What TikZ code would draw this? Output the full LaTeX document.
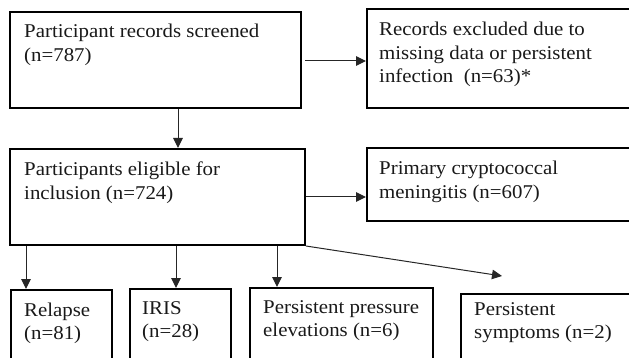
\documentclass[tikz,border=0pt]{standalone}
\usepackage{fontspec}
\usepackage{graphicx}
\setmainfont{Liberation Serif}
\usetikzlibrary{arrows.meta}
% widened block of left-aligned lines, baseline on the first line
\newcommand{\boxlines}[1]{\scalebox{1.07}[1]{\begin{tabular}[t]{@{}l@{}}#1\end{tabular}}}
\begin{document}
\begin{tikzpicture}[x=1pt,y=-1pt,
  box/.style={draw=black, line width=2pt, anchor=north west, inner sep=0pt},
  txt/.style={anchor=base west, inner sep=0pt,
    font=\fontsize{19.5}{23.5}\selectfont, text=black!90},
  link/.style={line width=1pt, draw=black!85, -{Triangle[length=10pt,width=9.5pt]}}]
\useasboundingbox (0,0) rectangle (629,358);
\clip (0,0) rectangle (629,358);

% boxes
\node[box, minimum width=291pt, minimum height=96pt] (b1) at (9,11) {};
\node[box, minimum width=280pt, minimum height=99pt] (b2) at (366,8) {};
\node[box, minimum width=295pt, minimum height=96pt] (b3) at (9,148) {};
\node[box, minimum width=280pt, minimum height=73pt] (b4) at (366,147) {};
\node[box, minimum width=101pt, minimum height=80pt] (b5) at (10,289) {};
\node[box, minimum width=101pt, minimum height=80pt] (b6) at (129,288) {};
\node[box, minimum width=183pt, minimum height=80pt] (b7) at (249,287) {};
\node[box, minimum width=190pt, minimum height=80pt] (b8) at (460,293) {};

% box texts
\node[txt] (t1) at (24,38)  {\boxlines{Participant records screened\\(n=787)}};
\node[txt] (t2) at (379,36) {\boxlines{Records excluded due to\\missing data or persistent\\infection~ (n=63)*}};
\node[txt] (t3) at (24,176) {\boxlines{Participants eligible for\\inclusion (n=724)}};
\node[txt] (t4) at (379,175) {\boxlines{Primary cryptococcal\\meningitis (n=607)}};
\node[txt] (t5) at (24,316) {\boxlines{Relapse\\(n=81)}};
\node[txt] (t6) at (142,314) {\boxlines{IRIS\\(n=28)}};
\node[txt] (t7) at (263,313) {\boxlines{Persistent pressure\\elevations (n=6)}};
\node[txt] (t8) at (474,315) {\boxlines{Persistent\\symptoms (n=2)}};

% connectors
\draw[link, shorten <=3pt] ([yshift=-1pt]b1.east) coordinate (r0) -- (r0 -| b2.west);
\draw[link] ([xshift=169pt]b1.south west) coordinate (s0) -- (s0 |- b3.north);
\draw[link] (b3.east) -- (b3.east -| b4.west);
\draw[link] ([xshift=17pt]b3.south west) coordinate (s1) -- (s1 |- b5.north);
\draw[link] ([xshift=167pt]b3.south west) coordinate (s2) -- (s2 |- b6.north);
\draw[link] ([xshift=268pt]b3.south west) coordinate (s3) -- (s3 |- b7.north);
\coordinate (dEnd) at (502,276);
\draw[link] (b3.south east) -- (dEnd);
\end{tikzpicture}
\end{document}
